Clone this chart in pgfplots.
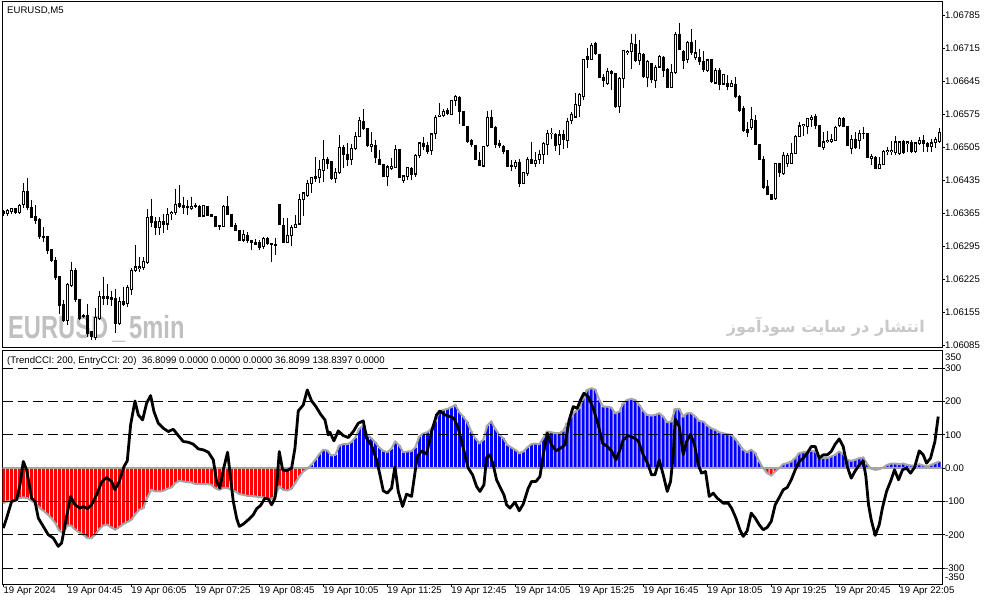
\documentclass[border=0pt]{standalone}
\usepackage{graphicx}
\usepackage{pgfplots}
\pgfplotsset{compat=1.18}
\usepackage{pgfplotstable}
\usepackage{fontspec}
\setmainfont{Liberation Sans}
\newfontfamily\arabicfont[Script=Arabic]{DejaVu Sans}
\TeXXeTstate=1
\definecolor{wmgray}{RGB}{192,192,192}
\definecolor{wmgrayb}{RGB}{200,200,200}
\definecolor{cciGray}{RGB}{165,165,165}
\definecolor{mtblue}{RGB}{0,0,255}
\definecolor{mtred}{RGB}{255,0,0}
\newcommand\tf{\fontsize{9.6}{11}\selectfont}

\pgfplotstableread{
i o h l c
0 1.06368 1.06371 1.06360 1.06364
1 1.06364 1.06373 1.06359 1.06370
2 1.06368 1.06377 1.06364 1.06375
3 1.06375 1.06377 1.06364 1.06366
4 1.06366 1.06384 1.06364 1.06382
5 1.06383 1.06429 1.06375 1.06412
6 1.06412 1.06439 1.06371 1.06377
7 1.06377 1.06393 1.06354 1.06356
8 1.06359 1.06382 1.06343 1.06349
9 1.06352 1.06354 1.06311 1.06315
10 1.06316 1.06336 1.06304 1.06313
11 1.06316 1.06316 1.06279 1.06285
12 1.06288 1.06288 1.06261 1.06264
13 1.06265 1.06271 1.06223 1.06229
14 1.06230 1.06230 1.06152 1.06169
15 1.06172 1.06181 1.06135 1.06137
16 1.06137 1.06216 1.06128 1.06214
17 1.06212 1.06262 1.06209 1.06244
18 1.06244 1.06249 1.06177 1.06181
19 1.06182 1.06182 1.06138 1.06142
20 1.06149 1.06151 1.06143 1.06145
21 1.06149 1.06173 1.06103 1.06110
22 1.06113 1.06114 1.06097 1.06103
23 1.06101 1.06163 1.06097 1.06144
24 1.06142 1.06200 1.06138 1.06188
25 1.06189 1.06230 1.06170 1.06184
26 1.06188 1.06214 1.06170 1.06184
27 1.06186 1.06200 1.06168 1.06181
28 1.06184 1.06205 1.06110 1.06131
29 1.06131 1.06188 1.06128 1.06177
30 1.06178 1.06209 1.06168 1.06172
31 1.06173 1.06212 1.06166 1.06207
32 1.06203 1.06248 1.06191 1.06244
33 1.06244 1.06297 1.06241 1.06251
34 1.06247 1.06272 1.06241 1.06251
35 1.06250 1.06272 1.06244 1.06262
36 1.06260 1.06373 1.06258 1.06356
37 1.06359 1.06396 1.06336 1.06345
38 1.06347 1.06356 1.06318 1.06335
39 1.06335 1.06356 1.06318 1.06347
40 1.06347 1.06364 1.06322 1.06342
41 1.06342 1.06375 1.06329 1.06362
42 1.06364 1.06370 1.06350 1.06366
43 1.06366 1.06417 1.06361 1.06384
44 1.06386 1.06424 1.06375 1.06379
45 1.06382 1.06400 1.06364 1.06377
46 1.06380 1.06393 1.06361 1.06377
47 1.06375 1.06400 1.06371 1.06380
48 1.06382 1.06386 1.06377 1.06380
49 1.06379 1.06382 1.06356 1.06359
50 1.06359 1.06382 1.06357 1.06381
51 1.06379 1.06381 1.06360 1.06361
52 1.06362 1.06363 1.06358 1.06359
53 1.06357 1.06358 1.06337 1.06337
54 1.06339 1.06340 1.06329 1.06337
55 1.06337 1.06382 1.06336 1.06380
56 1.06380 1.06401 1.06361 1.06362
57 1.06362 1.06362 1.06336 1.06336
58 1.06339 1.06345 1.06328 1.06329
59 1.06329 1.06329 1.06308 1.06308
60 1.06308 1.06330 1.06304 1.06320
61 1.06318 1.06325 1.06301 1.06306
62 1.06306 1.06309 1.06287 1.06302
63 1.06303 1.06311 1.06297 1.06299
64 1.06302 1.06308 1.06287 1.06292
65 1.06294 1.06315 1.06290 1.06311
66 1.06311 1.06315 1.06297 1.06301
67 1.06300 1.06302 1.06262 1.06298
68 1.06299 1.06313 1.06276 1.06297
69 1.06384 1.06385 1.06341 1.06342
70 1.06339 1.06354 1.06301 1.06302
71 1.06303 1.06354 1.06301 1.06318
72 1.06317 1.06340 1.06296 1.06335
73 1.06335 1.06361 1.06333 1.06342
74 1.06342 1.06405 1.06340 1.06394
75 1.06394 1.06410 1.06359 1.06408
76 1.06403 1.06435 1.06400 1.06428
77 1.06428 1.06442 1.06408 1.06440
78 1.06442 1.06485 1.06432 1.06438
79 1.06441 1.06478 1.06429 1.06458
80 1.06455 1.06521 1.06432 1.06479
81 1.06479 1.06485 1.06458 1.06470
82 1.06474 1.06476 1.06435 1.06439
83 1.06439 1.06460 1.06429 1.06451
84 1.06451 1.06530 1.06448 1.06504
85 1.06504 1.06509 1.06460 1.06490
86 1.06490 1.06513 1.06465 1.06479
87 1.06479 1.06511 1.06467 1.06502
88 1.06502 1.06538 1.06500 1.06527
89 1.06527 1.06569 1.06526 1.06562
90 1.06559 1.06585 1.06542 1.06545
91 1.06545 1.06546 1.06506 1.06509
92 1.06507 1.06538 1.06495 1.06511
93 1.06508 1.06521 1.06472 1.06483
94 1.06479 1.06500 1.06467 1.06469
95 1.06469 1.06470 1.06441 1.06442
96 1.06442 1.06467 1.06423 1.06463
97 1.06460 1.06481 1.06456 1.06465
98 1.06461 1.06509 1.06460 1.06500
99 1.06500 1.06501 1.06439 1.06440
100 1.06434 1.06446 1.06429 1.06444
101 1.06442 1.06463 1.06436 1.06462
102 1.06460 1.06463 1.06435 1.06446
103 1.06448 1.06490 1.06442 1.06488
104 1.06488 1.06516 1.06481 1.06514
105 1.06513 1.06527 1.06499 1.06507
106 1.06509 1.06516 1.06491 1.06495
107 1.06497 1.06535 1.06488 1.06533
108 1.06533 1.06573 1.06523 1.06569
109 1.06571 1.06599 1.06569 1.06573
110 1.06572 1.06585 1.06568 1.06581
111 1.06583 1.06589 1.06573 1.06576
112 1.06574 1.06606 1.06573 1.06605
113 1.06603 1.06615 1.06592 1.06612
114 1.06610 1.06613 1.06555 1.06581
115 1.06581 1.06582 1.06549 1.06550
116 1.06549 1.06550 1.06514 1.06518
117 1.06520 1.06523 1.06506 1.06511
118 1.06509 1.06510 1.06478 1.06479
119 1.06477 1.06495 1.06465 1.06467
120 1.06465 1.06508 1.06464 1.06507
121 1.06508 1.06582 1.06506 1.06568
122 1.06567 1.06583 1.06545 1.06547
123 1.06547 1.06550 1.06504 1.06511
124 1.06513 1.06521 1.06504 1.06508
125 1.06506 1.06509 1.06490 1.06495
126 1.06499 1.06500 1.06462 1.06463
127 1.06467 1.06477 1.06455 1.06465
128 1.06463 1.06477 1.06458 1.06472
129 1.06472 1.06479 1.06421 1.06428
130 1.06428 1.06452 1.06427 1.06451
131 1.06449 1.06485 1.06443 1.06479
132 1.06479 1.06516 1.06469 1.06470
133 1.06470 1.06495 1.06463 1.06477
134 1.06479 1.06500 1.06470 1.06490
135 1.06490 1.06516 1.06469 1.06513
136 1.06511 1.06542 1.06488 1.06534
137 1.06533 1.06545 1.06523 1.06535
138 1.06531 1.06535 1.06497 1.06509
139 1.06511 1.06541 1.06488 1.06531
140 1.06531 1.06542 1.06502 1.06521
141 1.06520 1.06566 1.06504 1.06560
142 1.06561 1.06580 1.06554 1.06575
143 1.06569 1.06619 1.06568 1.06596
144 1.06594 1.06619 1.06568 1.06617
145 1.06612 1.06693 1.06605 1.06691
146 1.06698 1.06716 1.06672 1.06691
147 1.06691 1.06725 1.06690 1.06721
148 1.06726 1.06728 1.06700 1.06704
149 1.06702 1.06703 1.06652 1.06653
150 1.06653 1.06660 1.06632 1.06646
151 1.06640 1.06672 1.06637 1.06665
152 1.06665 1.06668 1.06626 1.06661
153 1.06661 1.06662 1.06589 1.06592
154 1.06591 1.06653 1.06578 1.06651
155 1.06651 1.06712 1.06630 1.06711
156 1.06706 1.06711 1.06700 1.06708
157 1.06707 1.06746 1.06670 1.06725
158 1.06723 1.06746 1.06686 1.06688
159 1.06688 1.06733 1.06679 1.06704
160 1.06702 1.06705 1.06651 1.06654
161 1.06653 1.06690 1.06632 1.06686
162 1.06682 1.06684 1.06642 1.06649
163 1.06647 1.06679 1.06630 1.06675
164 1.06675 1.06700 1.06672 1.06697
165 1.06695 1.06698 1.06653 1.06668
166 1.06670 1.06672 1.06630 1.06632
167 1.06632 1.06681 1.06630 1.06663
168 1.06663 1.06750 1.06661 1.06745
169 1.06745 1.06769 1.06711 1.06712
170 1.06707 1.06711 1.06670 1.06688
171 1.06691 1.06731 1.06683 1.06728
172 1.06728 1.06755 1.06700 1.06705
173 1.06695 1.06732 1.06691 1.06705
174 1.06695 1.06714 1.06679 1.06686
175 1.06686 1.06709 1.06665 1.06670
176 1.06668 1.06693 1.06665 1.06690
177 1.06690 1.06693 1.06641 1.06644
178 1.06641 1.06672 1.06640 1.06668
179 1.06668 1.06672 1.06627 1.06639
180 1.06639 1.06661 1.06636 1.06660
181 1.06640 1.06658 1.06627 1.06634
182 1.06634 1.06647 1.06632 1.06641
183 1.06639 1.06653 1.06610 1.06612
184 1.06613 1.06615 1.06580 1.06582
185 1.06587 1.06592 1.06537 1.06540
186 1.06542 1.06559 1.06527 1.06537
187 1.06546 1.06591 1.06542 1.06564
188 1.06562 1.06573 1.06509 1.06511
189 1.06511 1.06512 1.06478 1.06479
190 1.06479 1.06486 1.06417 1.06420
191 1.06421 1.06436 1.06403 1.06405
192 1.06405 1.06406 1.06393 1.06394
193 1.06396 1.06472 1.06394 1.06470
194 1.06470 1.06472 1.06441 1.06451
195 1.06449 1.06495 1.06446 1.06488
196 1.06470 1.06493 1.06463 1.06488
197 1.06470 1.06514 1.06469 1.06492
198 1.06492 1.06530 1.06490 1.06528
199 1.06527 1.06559 1.06526 1.06550
200 1.06551 1.06554 1.06528 1.06553
201 1.06548 1.06566 1.06533 1.06566
202 1.06564 1.06573 1.06547 1.06569
203 1.06571 1.06576 1.06543 1.06550
204 1.06552 1.06553 1.06505 1.06506
205 1.06504 1.06537 1.06500 1.06516
206 1.06516 1.06540 1.06514 1.06520
207 1.06516 1.06534 1.06513 1.06521
208 1.06520 1.06550 1.06518 1.06547
209 1.06550 1.06568 1.06548 1.06566
210 1.06566 1.06569 1.06547 1.06548
211 1.06548 1.06549 1.06507 1.06509
212 1.06502 1.06530 1.06490 1.06521
213 1.06521 1.06537 1.06502 1.06504
214 1.06520 1.06541 1.06502 1.06534
215 1.06535 1.06548 1.06523 1.06533
216 1.06533 1.06534 1.06483 1.06484
217 1.06481 1.06490 1.06467 1.06486
218 1.06484 1.06486 1.06458 1.06460
219 1.06460 1.06484 1.06458 1.06469
220 1.06469 1.06499 1.06467 1.06495
221 1.06495 1.06506 1.06488 1.06499
222 1.06495 1.06518 1.06488 1.06497
223 1.06493 1.06528 1.06488 1.06516
224 1.06491 1.06518 1.06488 1.06516
225 1.06516 1.06521 1.06491 1.06493
226 1.06513 1.06518 1.06495 1.06516
227 1.06514 1.06520 1.06493 1.06495
228 1.06495 1.06516 1.06493 1.06514
229 1.06513 1.06527 1.06509 1.06520
230 1.06520 1.06530 1.06495 1.06513
231 1.06513 1.06516 1.06495 1.06507
232 1.06507 1.06523 1.06495 1.06514
233 1.06514 1.06527 1.06504 1.06521
234 1.06516 1.06546 1.06513 1.06537
}\candles

\pgfplotstableread{
i v
0 -105
1 -100
2 -100
3 -98
4 -90
5 -88
6 -90
7 -98
8 -105
9 -118
10 -128
11 -138
12 -150
13 -165
14 -188
15 -195
16 -172
17 -173
18 -185
19 -193
20 -200
21 -210
22 -210
23 -200
24 -183
25 -172
26 -170
27 -178
28 -185
29 -177
30 -168
31 -162
32 -155
33 -138
34 -125
35 -120
36 -88
37 -65
38 -70
39 -70
40 -68
41 -62
42 -58
43 -45
44 -38
45 -40
46 -42
47 -43
48 -47
49 -48
50 -48
51 -48
52 -50
53 -60
54 -65
55 -60
56 -60
57 -65
58 -70
59 -78
60 -80
61 -83
62 -84
63 -85
64 -87
65 -88
66 -90
67 -92
68 -85
69 -55
70 -65
71 -67
72 -62
73 -45
74 -25
75 -10
76 -2
77 10
78 25
79 42
80 55
81 53
82 38
83 40
84 68
85 72
86 72
87 78
88 92
89 118
90 128
91 100
92 90
93 78
94 62
95 52
96 48
97 58
98 80
99 68
100 48
101 50
102 51
103 62
104 95
105 104
106 108
107 118
108 140
109 168
110 175
111 178
112 183
113 190
114 168
115 155
116 138
117 110
118 90
119 75
120 85
121 128
122 140
123 118
124 100
125 90
126 70
127 62
128 55
129 45
130 50
131 62
132 72
133 74
134 72
135 90
136 110
137 108
138 105
139 105
140 112
141 135
142 155
143 170
144 180
145 210
146 235
147 240
148 236
149 205
150 185
151 185
152 182
153 165
154 170
155 195
156 205
157 208
158 205
159 190
160 172
161 160
162 158
163 160
164 165
165 155
166 138
167 140
168 178
169 178
170 155
171 165
172 165
173 155
174 142
175 140
176 128
177 120
178 115
179 108
180 105
181 102
182 100
183 88
184 72
185 55
186 48
187 55
188 45
189 20
190 0
191 -15
192 -22
193 -10
194 0
195 12
196 15
197 20
198 30
199 45
200 48
201 48
202 52
203 50
204 35
205 30
206 30
207 35
208 40
209 50
210 42
211 25
212 22
213 25
214 30
215 32
216 12
217 -2
218 -5
219 -3
220 2
221 10
222 14
223 14
224 12
225 14
226 10
227 8
228 8
229 12
230 8
231 5
232 10
233 15
234 20
}\trend

\pgfplotstableread{
x y
0 -180
0.83 -150
2.08 -100
3.33 -95
4.17 -50
5 20
5.83 -5
7.08 -90
7.92 -100
8.75 -150
10 -175
11.25 -200
12.5 -210
13.75 -235
14.58 -225
15.83 -145
16.83 -85
17.92 -110
19.17 -120
20 -115
21 -122
22.08 -110
23.33 -80
24.58 -42
25.83 -28
27.08 -40
27.92 -65
29 -40
30.17 5
31 22
31.83 130
32.92 202
33.75 160
34.83 145
35.83 195
36.83 218
37.67 170
38.75 135
40 120
41.25 110
42.5 117
43.75 98
45 80
46.25 78
47.5 72
48.75 58
50 55
51.25 48
52.5 25
53.33 -40
54.17 -60
55 -5
56.08 48
56.83 -30
57.5 -100
58.33 -150
59 -175
60 -168
61.25 -155
62.5 -140
63.33 -122
64.33 -112
65.42 -90
66.25 -92
67.08 -110
67.92 -90
68.5 -30
69 50
69.83 -5
70.83 -8
72.08 0
72.92 60
73.75 172
75 190
76 235
77.08 202
78.17 185
79.33 162
80.42 145
81.25 100
81.67 108
82.67 82
83.75 112
85 98
86.25 92
87.5 110
88.75 135
90 142
90.83 90
92.08 68
93.33 25
94.17 -20
95 -68
96 -75
97.08 -60
97.92 5
98.75 -70
99.83 -115
100.83 -78
102.08 -85
103.5 35
104.58 52
105.83 42
107.08 110
108.33 160
109.17 172
110.42 160
111.67 155
112.67 150
113.75 120
115 60
116.25 0
117.33 -20
118.33 -55
119.17 -70
120.17 -50
120.83 32
121.67 40
122.5 10
123.33 -35
124.33 -60
125.17 -80
125.83 -110
126.67 -120
127.92 -102
129 -128
130 -108
131.25 -60
132.08 -40
133.17 -40
134.17 -25
135 40
136 105
137.08 70
138.17 52
139.33 60
140.42 70
141.5 145
142.5 185
143.5 180
144.33 205
145.17 225
146.25 215
147.5 180
148.75 130
149.83 75
151 65
152.08 52
153.17 25
154.17 55
155 85
156.25 98
157.5 92
158.75 82
160 40
161.25 10
162.08 -20
162.92 -20
164 25
165 -20
166 -70
166.83 -40
167.5 40
168 148
169 125
170 40
170.83 80
171.83 102
172.83 70
173.75 10
174.58 -15
175.58 -10
176.5 -85
177.5 -75
178.5 -90
180 -105
181.25 -105
182.08 -120
183.17 -150
184.17 -185
185 -205
186 -188
187 -135
188 -150
189 -170
190 -185
191 -178
192 -160
193 -110
194 -88
195 -65
196 -58
197 -35
198 -5
199 20
200 30
201 45
202 65
203 65
204 30
205 40
206 40
207 50
208 72
209 88
210 65
211 5
212 -30
213 -8
214 10
215 22
215.67 -25
216.33 -110
217 -155
218 -202
219 -170
219.83 -118
220.83 -70
221.83 -40
222.83 -5
223.83 -35
224.83 -5
225.83 0
226.83 -15
227.83 2
229 52
230 40
230.83 15
231.83 30
232.92 80
233.75 155
}\entry

\pgfplotsset{
  candlebar/.style={draw=none, mark=none, forget plot,
    error bars/y dir=minus, error bars/y explicit, error bars/error mark=none},
}

\begin{document}
\begin{tikzpicture}
\useasboundingbox (0pt,0pt) rectangle (987pt,605pt);
\fill[white] (0pt,0pt) rectangle (987pt,605pt);

% watermarks (behind candles)
\node[anchor=base west, inner sep=0pt, text=wmgray] at (8pt,266pt)
  {\scalebox{0.74}[1]{\fontsize{32}{32}\selectfont\bfseries EURUSD\,\_\,5min}};
\node[anchor=base east, inner sep=0pt, text=wmgrayb] at (925pt,272pt)
  {\resizebox{198pt}{!}{\arabicfont\bfseries\beginR انتشار در سایت سودآموز\endR}};

% ---------- price panel (y in units of 0.00001 above 1.06000) ----------
\begin{axis}[
  at={(2.5pt,257pt)}, anchor=south west, scale only axis,
  width=939.5pt, height=346pt,
  xmin=-0.2, xmax=234.7, ymin=79, ymax=813,
  axis line style={black, line width=1pt},
  xtick=\empty,
  ytick={85,155,225,295,365,435,505,575,645,715,785},
  yticklabels={1.06085,1.06155,1.06225,1.06295,1.06365,1.06435,1.06505,1.06575,1.06645,1.06715,1.06785},
  ytick pos=right, yticklabel pos=right,
  tick align=outside, major tick length=3pt,
  every tick/.style={black, line width=0.8pt},
  yticklabel style={anchor=west, inner sep=0pt, font=\tf},
]
% wicks
\addplot[candlebar, error bars/error bar style={draw=black, line width=1pt}]
  table[x=i, y expr={(\thisrow{h}-1.06)*100000}, y error expr={(\thisrow{h}-\thisrow{l})*100000}] {\candles};
% bodies (black outline / fill)
\addplot[candlebar, error bars/error bar style={draw=black, line width=3pt, shorten <=-0.5pt, shorten >=-0.5pt}]
  table[x=i, y expr={(max(\thisrow{o},\thisrow{c})-1.06)*100000}, y error expr={abs(\thisrow{o}-\thisrow{c})*100000}] {\candles};
% white interior of bullish candles
\addplot[candlebar, restrict expr to domain={(\thisrow{c}-\thisrow{o})*100000}{0.5:1000},
  error bars/error bar style={draw=white, line width=1pt, shorten <=0.6pt, shorten >=0.6pt}]
  table[x=i, y expr={(\thisrow{c}-1.06)*100000}, y error expr={(\thisrow{c}-\thisrow{o})*100000}] {\candles};
\end{axis}

% ---------- indicator panel ----------
\begin{axis}[
  at={(2.5pt,21pt)}, anchor=south west, scale only axis,
  width=939.5pt, height=233pt,
  xmin=-0.2, xmax=234.7, ymin=-348, ymax=352,
  axis line style={black, line width=1pt},
  xtick={0,16,...,224},
  xticklabels={19 Apr 2024,19 Apr 04:45,19 Apr 06:05,19 Apr 07:25,19 Apr 08:45,19 Apr 10:05,19 Apr 11:25,19 Apr 12:45,19 Apr 14:05,19 Apr 15:25,19 Apr 16:45,19 Apr 18:05,19 Apr 19:25,19 Apr 20:45,19 Apr 22:05},
  xtick pos=left, xticklabel pos=left,
  ytick={-300,-200,-100,0,100,200,300},
  yticklabels={-300,-200,-100,0.00,100,200,300},
  ytick pos=right, yticklabel pos=right,
  tick align=outside, major tick length=3pt,
  every tick/.style={black, line width=0.8pt},
  yticklabel style={anchor=west, inner sep=0pt, font=\tf},
  xticklabel style={anchor=north west, inner sep=0pt, font=\tf},
]
\addplot[ybar, bar width=3pt, bar shift=0pt, fill=mtblue, draw=none, forget plot,
  restrict y to domain=0.5:400] table[x=i, y=v] {\trend};
\addplot[ybar, bar width=3pt, bar shift=0pt, fill=mtred, draw=none, forget plot,
  restrict y to domain=-400:-0.5] table[x=i, y=v] {\trend};
\addplot[cciGray, line width=1.5pt, forget plot] coordinates {(-1,0) (236,0)};
\addplot[cciGray, line width=2pt, forget plot] table[x=i, y=v] {\trend};
\foreach \lv in {-300,-200,-100,100,200,300} {
  \edef\temp{\noexpand\addplot[black, line width=0.9pt, dash pattern=on 10pt off 5pt, forget plot] coordinates {(-0.2,\lv) (234.7,\lv)};}
  \temp
}
\addplot[black, line width=2.8pt, line join=round, forget plot] table[x=x, y=y] {\entry};
\end{axis}

% texts
\node[anchor=base west, inner sep=0pt, font=\tf] at (7pt,591pt) {EURUSD,M5};
\node[anchor=base west, inner sep=0pt, font=\tf] at (7pt,241.7pt)
  {(TrendCCI: 200, EntryCCI: 20)\ \ 36.8099 0.0000 0.0000 0.0000 36.8099 138.8397 0.0000};
\node[anchor=west, inner sep=0pt, font=\tf] at (945pt,248pt) {350};
\node[anchor=west, inner sep=0pt, font=\tf] at (945pt,28pt) {-350};
\end{tikzpicture}
\end{document}
